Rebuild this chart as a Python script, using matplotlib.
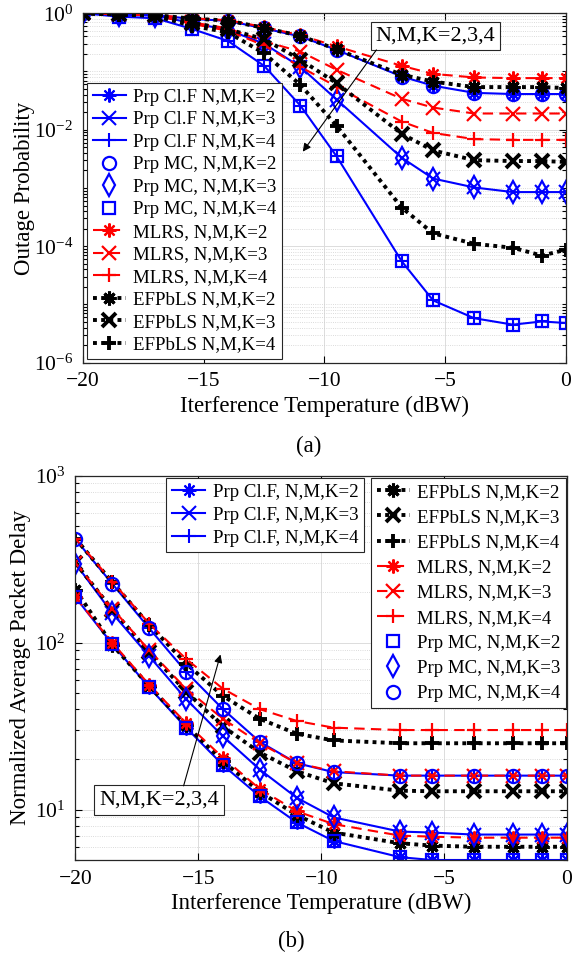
import matplotlib
matplotlib.use('Agg')
import matplotlib.pyplot as plt
from matplotlib.ticker import FixedLocator, LogLocator, NullFormatter

plt.rcParams['font.family'] = ['Liberation Serif', 'DejaVu Serif']
plt.rcParams['mathtext.fontset'] = 'custom'
plt.rcParams['mathtext.rm'] = 'Liberation Serif'
plt.rcParams['mathtext.it'] = 'Liberation Serif:italic'

# interference temperature (dBW)
temp = [-20, -18.5, -17, -15.5, -14, -12.5, -11, -9.5, -6.8, -5.5, -3.8, -2.2, -1, 0]

# (a) outage probability
out_prp_2 = [1.0, 0.96, 0.93, 0.80, 0.74, 0.55, 0.40, 0.235, 0.082, 0.057, 0.043, 0.041, 0.041, 0.041]
out_prp_3 = [1.0, 0.95, 0.91, 0.68, 0.52, 0.30, 0.12, 0.033, 0.0033, 0.00145, 0.00102, 0.00085, 0.00085, 0.00085]
out_prp_4 = [1.0, 0.875, 0.82, 0.54, 0.335, 0.125, 0.026, 0.0035, 5.5e-5, 1.17e-5, 5.8e-6, 4.5e-6, 5.1e-6, 4.8e-6]
out_mlrs_2 = [1.0, 0.97, 0.94, 0.82, 0.76, 0.58, 0.42, 0.27, 0.125, 0.091, 0.079, 0.077, 0.077, 0.077]
out_mlrs_3 = [1.0, 0.96, 0.92, 0.70, 0.55, 0.33, 0.22, 0.107, 0.034, 0.024, 0.019, 0.019, 0.019, 0.019]
out_mlrs_4 = [1.0, 0.96, 0.92, 0.66, 0.50, 0.28, 0.12, 0.055, 0.0138, 0.0088, 0.0069, 0.0067, 0.0067, 0.0067]
out_efp_2 = [1.0, 0.96, 0.93, 0.81, 0.75, 0.56, 0.41, 0.24, 0.088, 0.067, 0.054, 0.054, 0.054, 0.052]
out_efp_3 = [1.0, 0.96, 0.92, 0.69, 0.53, 0.36, 0.16, 0.063, 0.0085, 0.0044, 0.003, 0.0029, 0.0029, 0.0028]
out_efp_4 = [1.0, 0.95, 0.90, 0.61, 0.47, 0.205, 0.059, 0.0117, 4.6e-4, 1.66e-4, 1.1e-4, 9.4e-5, 6.9e-5, 8.7e-5]

# (b) normalized average packet delay
dly_prp_2 = [187, 98, 54, 31, 18.5, 12, 8.4, 6.5, 5.2, 5.0, 5.0, 5.0, 5.0, 5.0]
dly_prp_3 = [298, 150, 83, 46, 27.5, 17.4, 11.8, 9.0, 7.4, 7.3, 7.1, 7.1, 7.1, 7.1]
dly_prp_4 = [416, 225, 122, 67, 40, 25.5, 19, 16.8, 16.0, 16.0, 16.0, 16.0, 16.0, 16.0]
dly_efp_2 = [208, 97, 55, 32, 19.5, 12.8, 9.3, 7.3, 6.3, 6.1, 6.0, 6.0, 6.0, 6.0]
dly_efp_3 = [300, 158, 88, 51, 31.5, 22, 17, 14.4, 13.0, 12.9, 12.9, 12.9, 12.9, 12.9]
dly_efp_4 = [420, 230, 128, 75, 48, 35, 28.5, 26, 25, 25, 25, 25, 25, 25]
dly_mlrs_2 = [187, 100, 56, 33, 20.5, 13.3, 9.8, 8.2, 7.0, 6.9, 6.8, 6.8, 6.8, 6.8]
dly_mlrs_3 = [300, 160, 90, 53, 35, 25, 19, 17, 16, 16, 16, 16, 16, 16]
dly_mlrs_4 = [420, 232, 130, 80, 53, 40, 34, 31, 30, 30, 30, 30, 30, 30]

AST = (8, 2, 0)  # matlab-like asterisk
BLUE = '#0000ff'
RED = '#ff0000'

FS_LAB = 16.5
FS_TICK = 15.5
FS_LEG = 13.6


def blue(ax, y, m, label):
    ax.plot(temp, y, color=BLUE, lw=1.5, marker=m, ms=10, mew=1.5, label=label)


def mc(ax, y, m, ms, label):
    ax.plot(temp, y, ls='none', color=BLUE, marker=m, ms=ms, mew=1.6, mfc='none', label=label)


def red(ax, y, m, label):
    ax.plot(temp, y, color=RED, lw=1.5, ls=(0, (5, 3)), marker=m, ms=10, mew=1.6, label=label)


def black(ax, y, m, label):
    mw = 2.2 if m == AST else 2.8
    ax.plot(temp, y, color='k', lw=2.8, ls=(0, (1, 1.1)), marker=m, ms=10, mew=mw, label=label)


def style(ax):
    ax.set_xlim(-20, 0)
    ax.set_xticks([-20, -15, -10, -5, 0])
    ax.set_yscale('log')
    ax.yaxis.set_minor_locator(LogLocator(base=10, subs=range(1, 10), numticks=30))
    ax.yaxis.set_minor_formatter(NullFormatter())
    ax.grid(which='major', color='#dcdcdc', lw=0.7, ls='-')
    ax.grid(which='minor', axis='y', color='#cfcfcf', lw=0.6, ls=':')
    ax.set_axisbelow(True)
    ax.tick_params(which='both', direction='in', top=True, right=True, labelsize=FS_TICK, width=0.8)
    ax.tick_params(which='major', length=5, pad=7)
    ax.tick_params(which='minor', length=3)
    for s in ax.spines.values():
        s.set_linewidth(0.9)
        s.set_color('#262626')


def legend(ax, handles, labels, loc, anchor, spacing):
    lg = ax.legend(handles, labels, loc=loc, bbox_to_anchor=anchor, borderaxespad=0,
                   fontsize=FS_LEG, fancybox=False, framealpha=1, edgecolor='#262626',
                   handlelength=1.75, handletextpad=0.4, labelspacing=spacing, borderpad=0.3)
    lg.get_frame().set_linewidth(0.8)
    return lg


fig = plt.figure(figsize=(5.82, 9.61), dpi=100)

# ---------------- (a) ----------------
ax1 = fig.add_axes([0.1426, 0.6226, 0.8299, 0.3636])
blue(ax1, out_prp_2, AST, 'Prp Cl.F N,M,K=2')
blue(ax1, out_prp_3, 'x', 'Prp Cl.F N,M,K=3')
blue(ax1, out_prp_4, '+', 'Prp Cl.F N,M,K=4')
mc(ax1, out_prp_2, 'o', 9.5, 'Prp MC, N,M,K=2')
mc(ax1, out_prp_3, 'd', 11, 'Prp MC, N,M,K=3')
mc(ax1, out_prp_4, 's', 8.5, 'Prp MC, N,M,K=4')
red(ax1, out_mlrs_2, AST, 'MLRS, N,M,K=2')
red(ax1, out_mlrs_3, 'x', 'MLRS, N,M,K=3')
red(ax1, out_mlrs_4, '+', 'MLRS, N,M,K=4')
black(ax1, out_efp_2, AST, 'EFPbLS N,M,K=2')
black(ax1, out_efp_3, 'x', 'EFPbLS N,M,K=3')
black(ax1, out_efp_4, '+', 'EFPbLS N,M,K=4')
style(ax1)
ax1.set_ylim(1e-6, 1)
ax1.yaxis.set_major_locator(FixedLocator([1e-6, 1e-4, 1e-2, 1]))
ax1.set_xlabel('Iterference Temperature (dBW)', fontsize=FS_LAB, labelpad=3)
ax1.set_ylabel('Outage Probability', fontsize=FS_LAB)
ax1.yaxis.set_label_coords(-0.099, 0.5)
h, l = ax1.get_legend_handles_labels()
legend(ax1, h, l, 'lower left', (0.008, 0.01), 0.28)

ax1.text(-5.4, 0.41, 'N,M,K=2,3,4', fontsize=16, ha='center', va='center', zorder=10,
         bbox=dict(boxstyle='square,pad=0.2', fc='white', ec='#262626', lw=0.8))
ax1.annotate('', xy=(-10.9, 0.0042), xytext=(-7.85, 0.235), zorder=10,
             arrowprops=dict(arrowstyle='-|>', color='k', lw=0.8, mutation_scale=12, shrinkA=0, shrinkB=0))
fig.text(0.53, 0.535, '(a)', fontsize=FS_LAB, ha='center', va='center')

# ---------------- (b) ----------------
ax2 = fig.add_axes([0.1297, 0.1051, 0.8445, 0.3999])
blue(ax2, dly_prp_2, AST, 'Prp Cl.F, N,M,K=2')
blue(ax2, dly_prp_3, 'x', 'Prp Cl.F, N,M,K=3')
blue(ax2, dly_prp_4, '+', 'Prp Cl.F, N,M,K=4')
black(ax2, dly_efp_2, AST, 'EFPbLS N,M,K=2')
black(ax2, dly_efp_3, 'x', 'EFPbLS N,M,K=3')
black(ax2, dly_efp_4, '+', 'EFPbLS N,M,K=4')
red(ax2, dly_mlrs_2, AST, 'MLRS, N,M,K=2')
red(ax2, dly_mlrs_3, 'x', 'MLRS, N,M,K=3')
red(ax2, dly_mlrs_4, '+', 'MLRS, N,M,K=4')
mc(ax2, dly_prp_2, 's', 8.5, 'Prp MC, N,M,K=2')
mc(ax2, dly_prp_3, 'd', 11, 'Prp MC, N,M,K=3')
mc(ax2, dly_prp_4, 'o', 9.5, 'Prp MC, N,M,K=4')
style(ax2)
ax2.set_ylim(5, 1000)
ax2.yaxis.set_major_locator(FixedLocator([10, 100, 1000]))
ax2.set_xlabel('Interference Temperature (dBW)', fontsize=FS_LAB, labelpad=3)
ax2.set_ylabel('Normalized Average Packet Delay', fontsize=FS_LAB)
ax2.yaxis.set_label_coords(-0.09, 0.5)
h, l = ax2.get_legend_handles_labels()
lg1 = legend(ax2, h[:3], l[:3], 'upper right', (0.587, 0.994), 0.3)
ax2.add_artist(lg1)
legend(ax2, h[3:], l[3:], 'upper right', (0.999, 0.994), 0.42)

ax2.text(-16.6, 11.4, 'N,M,K=2,3,4', fontsize=16, ha='center', va='center', zorder=10,
         bbox=dict(boxstyle='square,pad=0.25', fc='white', ec='#262626', lw=0.8))
ax2.annotate('', xy=(-14.1, 85), xytext=(-15.6, 13.9), zorder=10,
             arrowprops=dict(arrowstyle='-|>', color='k', lw=0.8, mutation_scale=12, shrinkA=0, shrinkB=0))
fig.text(0.5, 0.02, '(b)', fontsize=FS_LAB, ha='center', va='center')

fig.savefig('out.png', dpi=100)
